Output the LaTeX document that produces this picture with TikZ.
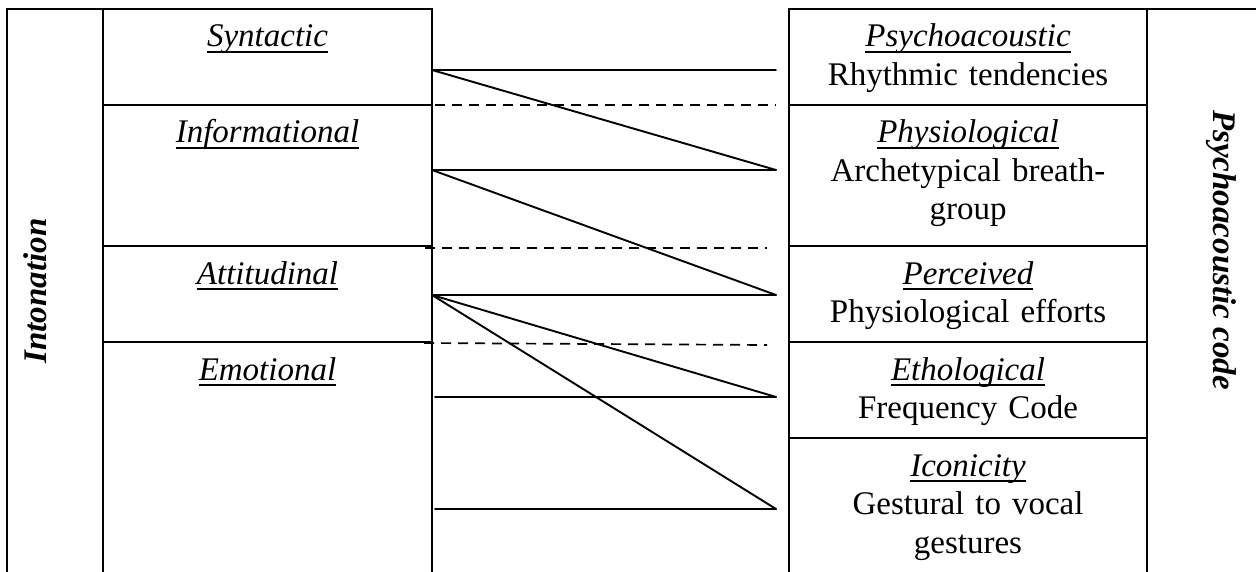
\documentclass[tikz,border=0pt]{standalone}
\usepackage{fontspec}
\setmainfont{Liberation Serif}
% italic heading with a heavy underline just below the baseline
\newcommand\ulab[1]{\setbox0\hbox{\itshape #1}\rlap{\rule[-6pt]{\wd0}{2.3pt}}\box0}
\begin{document}
\begin{tikzpicture}[x=1pt,y=-1pt,
  frame/.style={line width=1.4pt},
  link/.style={line width=1.9pt, line cap=round},
  sep/.style={line width=1.7pt, dash pattern=on 10pt off 7pt},
  lbl/.style={font=\fontsize{33}{38.5}\selectfont, inner sep=0pt, anchor=base, align=center, text width=340pt},
  side/.style={font=\fontsize{33}{38.5}\selectfont\bfseries\itshape, inner sep=0pt, anchor=base},
]
\useasboundingbox (0,0) rectangle (1256,572);

% ---- left table: Intonation ----
\draw[frame] (7,572) -- (7,9) -- (432,9) -- (432,572);
\draw[frame] (103,9) -- (103,572);
\draw[frame] (103,105) -- (432,105);
\draw[frame] (103,246) -- (432,246);
\draw[frame] (103,342) -- (432,342);

% ---- right table: Psychoacoustic code ----
\draw[frame] (789,572) -- (789,9) -- (1256,9);
\draw[frame] (1147,9) -- (1147,572);
\draw[frame] (789,105) -- (1147,105);
\draw[frame] (789,246) -- (1147,246);
\draw[frame] (789,342) -- (1147,342);
\draw[frame] (789,438) -- (1147,438);

% ---- side titles ----
\node[side, rotate=90] (into) at (46,291) {Intonation};
\node[side, rotate=-90] (pcode) at (1213,250) {Psychoacoustic code};

% ---- functions of intonation ----
\node[lbl, text width=300pt] (syn) at (267.5,47)  {\ulab{Syntactic}};
\node[lbl, text width=300pt] (inf) at (267.5,143) {\ulab{Informational}};
\node[lbl, text width=300pt] (att) at (267.5,284) {\ulab{Attitudinal}};
\node[lbl, text width=300pt] (emo) at (267.5,380) {\ulab{Emotional}};

% ---- psychoacoustic codes ----
\node[lbl] (psy) at (968,47)  {\ulab{Psychoacoustic}\\Rhythmic tendencies};
\node[lbl] (phy) at (968,143) {\ulab{Physiological}\\Archetypical breath-\\group};
\node[lbl] (per) at (968,284) {\ulab{Perceived}\\Physiological efforts};
\node[lbl] (eth) at (968,380) {\ulab{Ethological}\\Frequency Code};
\node[lbl] (ico) at (968,476) {\ulab{Iconicity}\\Gestural to vocal\\gestures};

% ---- connector end points ----
\coordinate (a1) at (432,70);  \coordinate (b1) at (776,70);
\coordinate (a2) at (432,170); \coordinate (b2) at (776,170);
\coordinate (a3) at (432,295); \coordinate (b3) at (776,295);
\coordinate (a4) at (435,397); \coordinate (b4) at (776,397);
\coordinate (a5) at (435,509); \coordinate (b5) at (776,509);

\draw[link] (a1) -- (b1);
\draw[link] (a2) -- (b2);
\draw[link] (a3) -- (b3);
\draw[link] (a4) -- (b4);
\draw[link] (a5) -- (b5);
\draw[link] (a1) -- (b2);
\draw[link] (a2) -- (b3);
\draw[link] (a3) -- (b4);
\draw[link] (a3) -- (b5);

% ---- dashed dividers ----
\coordinate (d1l) at (435,105); \coordinate (d1r) at (776,105);
\coordinate (d2l) at (425,248); \coordinate (d2r) at (767,248);
\coordinate (d3l) at (424,343); \coordinate (d3r) at (767,345);
\draw[sep] (d1l) -- (d1r);
\draw[sep] (d2l) -- (d2r);
\draw[sep] (d3l) -- (d3r);
\end{tikzpicture}
\end{document}
